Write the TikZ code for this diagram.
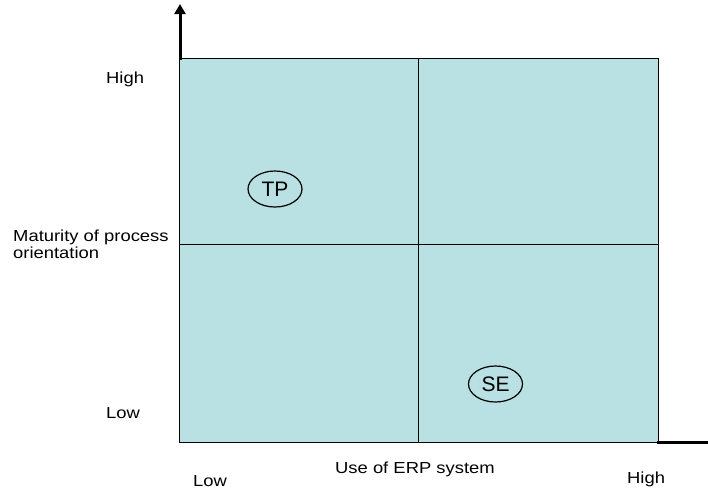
\documentclass[tikz,border=0pt]{standalone}
\usepackage{fontspec}
\setmainfont{Liberation Sans}
\newfontfamily\lblfont{Liberation Sans}[FakeStretch=1.15]
\usetikzlibrary{arrows.meta,shapes.geometric}
\definecolor{cellfill}{RGB}{185,224,226}
\tikzset{
  lbl/.style={font=\lblfont\fontsize{16}{17}\selectfont, inner sep=0pt, anchor=base west},
  big/.style={font=\fontsize{21}{23}\selectfont, draw, ellipse, line width=1.2pt, inner sep=0pt, minimum width=54pt, minimum height=36pt},
  axis/.style={line width=3pt},
  grid/.style={line width=1pt}
}
\begin{document}
\begin{tikzpicture}[x=1pt,y=-1pt]
\useasboundingbox (0,0) rectangle (708,490);
\fill[cellfill] (179,58) rectangle (658,442);
\draw[grid] (179,58) rectangle (658,442);
\draw[grid] (418.5,58) -- (418.5,442);
\draw[grid] (179,244) -- (658,244);
\coordinate (ytop) at (180,4);
\coordinate (ybot) at (180,60);
\coordinate (xl) at (657,442);
\coordinate (xr) at (708,442);
\draw[axis,-{Triangle[length=10pt,width=11pt]}] (ybot) -- (ytop);
\draw[axis] (xl) -- (xr);
\node[big] (tp) at (275,189) {TP};
\node[big] (se) at (495.5,384) {SE};
\node[lbl] (yh) at (106,83) {High};
\node[lbl,align=left] (ym) at (13,258) {Maturity of process\\orientation};
\node[lbl] (yl) at (106,418) {Low};
\node[lbl] (xlow) at (193,486) {Low};
\node[lbl] (xm) at (335,473) {Use of ERP system};
\node[lbl] (xh) at (627,483) {High};
\end{tikzpicture}
\end{document}
